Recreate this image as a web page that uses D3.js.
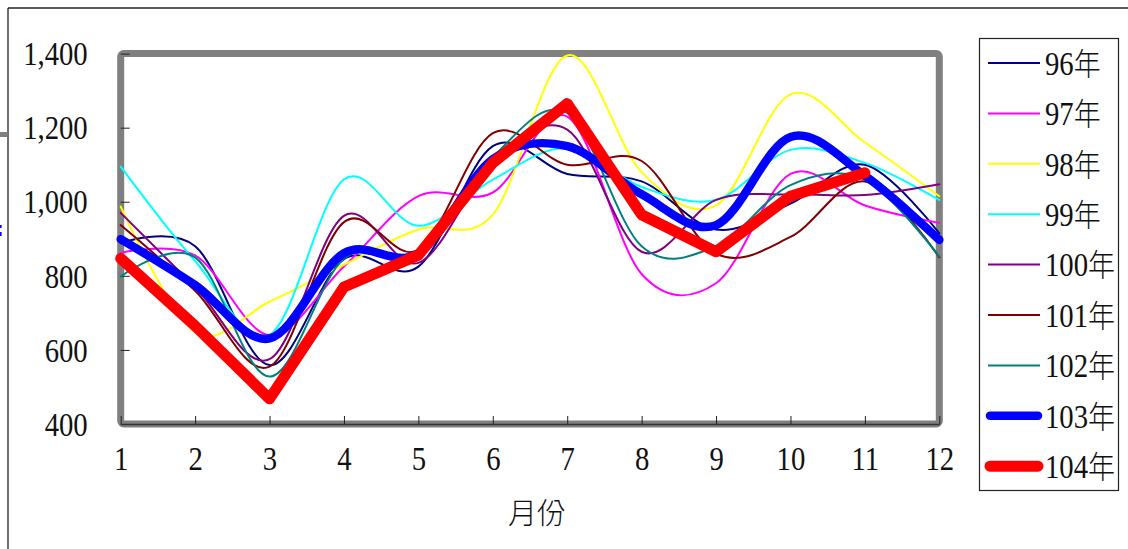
<!DOCTYPE html>
<html><head><meta charset="utf-8">
<script src="https://cdn.jsdelivr.net/npm/d3@7"></script>
<style>
html,body{margin:0;padding:0;background:#fff;}
svg{display:block;}
</style></head>
<body>
<svg id="chart" width="1128" height="549"></svg>
<script>
const months = [1,2,3,4,5,6,7,8,9,10,11,12];
const seriesNames = ["96","97","98","99","100","101","102","103","104"];
const yearSuffix = "年";
const y96  = [888, 880, 559, 845, 825, 1150, 1075, 1055, 925, 995, 1100, 915];
const y97  = [862, 855, 640, 825, 1015, 1025, 1230, 805, 780, 1075, 990, 943];
const y98  = [987, 648, 730, 830, 925, 965, 1395, 1080, 990, 1290, 1160, 1015];
const y99  = [1095, 840, 640, 1060, 935, 1060, 1145, 1040, 1005, 1140, 1105, 1005];
const y100 = [970, 770, 575, 962, 835, 1105, 1195, 865, 1005, 1020, 1018, 1047];
const y101 = [937, 760, 555, 945, 870, 1185, 1100, 1110, 860, 905, 1055, 850];
const y102 = [798, 850, 528, 847, 855, 1120, 1240, 880, 880, 1045, 1060, 852];
const y103 = [899, 775, 631, 861, 861, 1115, 1150, 1020, 937, 1175, 1070, 897];
const y104 = [847, 665, 468, 770, 856, 1105, 1265, 965, 865, 1015, 1078];
const yTicks = [400, 600, 800, 1000, 1200, 1400];
const xLabel = "月份";

const seriesValues = [y96,y97,y98,y99,y100,y101,y102,y103,y104];
const colors = ["#000080","#FF00FF","#FFFF00","#00FFFF","#800080","#800000","#008080","#0000FF","#FF0000"];
const widths = [2,2,2,2,2,2,2,8.5,11];
const smooth = [true,true,true,true,true,true,true,true,false];

const SERIF = "'Liberation Serif','Times New Roman',serif";
const CJK = "'Noto Sans CJK TC','Noto Sans CJK SC',sans-serif";
const SX = 0.87;

const svg = d3.select("#chart");
const x = d3.scaleLinear().domain([1,12]).range([120.7, 939.3]);
const y = d3.scaleLinear().domain([400,1400]).range([424, 53.6]);

// outer frame and artifacts
svg.append("line").attr("x1",8).attr("y1",8).attr("x2",1128).attr("y2",8).attr("stroke","#222").attr("stroke-width",1.3);
svg.append("line").attr("x1",8).attr("y1",8).attr("x2",8).attr("y2",549).attr("stroke","#222").attr("stroke-width",1.3);
svg.append("rect").attr("x",0).attr("y",132).attr("width",7.5).attr("height",5).attr("fill","#808080");
svg.append("rect").attr("x",0).attr("y",225).attr("width",1.6).attr("height",3).attr("fill","#0000FF");
svg.append("rect").attr("x",0).attr("y",232).attr("width",1.6).attr("height",4).attr("fill","#0000FF");

// plot frame
svg.append("rect")
  .attr("x", x(1)).attr("y", y(1400))
  .attr("width", x(12)-x(1)).attr("height", y(400)-y(1400))
  .attr("fill","#fff").attr("stroke","#808080").attr("stroke-width",7).attr("rx",3);

// axes
const yAxis = d3.axisLeft(y).tickValues(yTicks).tickFormat(d3.format(",")).tickSizeInner(-9).tickSizeOuter(0).tickPadding(33);
const gy = svg.append("g").attr("transform",`translate(${x(1)},0)`).call(yAxis);
gy.select(".domain").remove();
gy.selectAll(".tick line").attr("stroke","#222").attr("stroke-width",1);
gy.selectAll(".tick text").style("font-family",SERIF).style("font-size","33px").attr("fill","#111")
  .attr("x",-33/SX).attr("dy","0.34em").attr("transform",`scale(${SX},1)`);

const xAxis = d3.axisBottom(x).tickValues(months).tickFormat(d3.format("d")).tickSizeInner(-8).tickSizeOuter(0).tickPadding(23);
const gx = svg.append("g").attr("transform",`translate(0,${y(400)})`).call(xAxis);
gx.select(".domain").attr("stroke","#333").attr("stroke-width",1.5);
gx.selectAll(".tick line").attr("stroke","#222").attr("stroke-width",1);
gx.selectAll(".tick text").style("font-family",SERIF).style("font-size","33px").attr("fill","#111")
  .attr("transform",`scale(${SX},1)`);

// series
const lineSmooth = d3.line().x((d,i)=>x(months[i])).y(d=>y(d)).curve(d3.curveCardinal.tension(0));
const lineStraight = d3.line().x((d,i)=>x(months[i])).y(d=>y(d)).curve(d3.curveLinear);
seriesValues.forEach((vals,k)=>{
  svg.append("path")
    .attr("d", (smooth[k]?lineSmooth:lineStraight)(vals))
    .attr("fill","none").attr("stroke",colors[k]).attr("stroke-width",widths[k])
    .attr("stroke-linecap","round").attr("stroke-linejoin","round");
});

// axis title
svg.append("text").attr("x",537).attr("y",511).attr("text-anchor","middle").attr("dominant-baseline","central")
  .style("font-family",CJK).style("font-size","29px").style("font-weight","300").attr("fill","#111").text(xLabel);

// legend
const lg = svg.append("g");
lg.append("rect").attr("x",979.5).attr("y",38.5).attr("width",139).attr("height",452).attr("fill","#fff").attr("stroke","#222").attr("stroke-width",1.2);
seriesNames.forEach((name,k)=>{
  const cy = 63 + k*50.4;
  const thick = widths[k] > 4;
  lg.append("line").attr("x1",988 + (thick?2:0)).attr("x2",1040 - (thick?2:0)).attr("y1",cy).attr("y2",cy)
    .attr("stroke",colors[k]).attr("stroke-width",widths[k]).attr("stroke-linecap", thick?"round":"butt");
  const t = lg.append("text").attr("x",1045/SX).attr("y",cy).attr("dy","0.36em").attr("transform",`scale(${SX},1)`)
    .style("font-family",SERIF).style("font-size","33px").attr("fill","#111");
  t.append("tspan").text(name);
  t.append("tspan").style("font-family",CJK).style("font-size","31px").style("font-weight","300").text(yearSuffix);
});
</script>
</body></html>
